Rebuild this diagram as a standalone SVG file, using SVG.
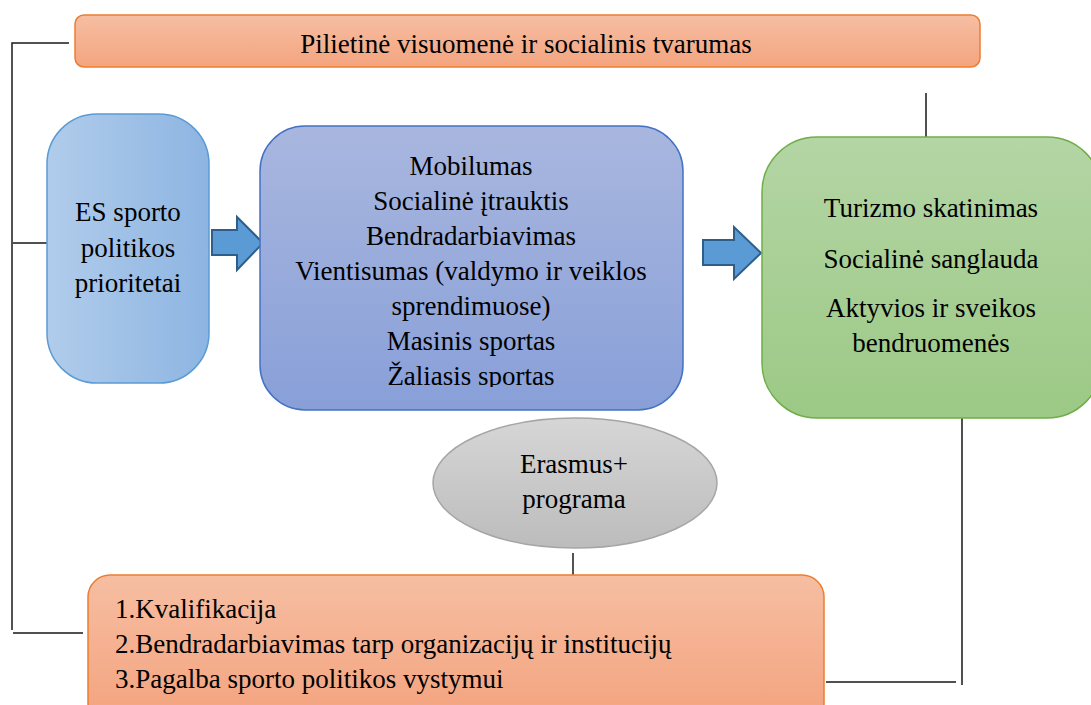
<svg xmlns="http://www.w3.org/2000/svg" width="1091" height="705" viewBox="0 0 1091 705">
  <style>
    text { font-family: 'Liberation Serif', 'DejaVu Serif', serif; font-size: 27px; fill: #000; }
    .c { text-anchor: middle; }
    .ln { stroke: #1a1a1a; stroke-width: 1.5; fill: none; }
    .ln2 { stroke: #505050; stroke-width: 2; fill: none; }
    .arrow { fill: #5b9bd5; stroke: #2e5f8a; stroke-width: 2; stroke-linejoin: miter; }
  </style>
  <defs>
    <linearGradient id="gOrange" x1="0" y1="0" x2="0" y2="1">
      <stop offset="0" stop-color="#f6bea2"/>
      <stop offset="1" stop-color="#f4a47f"/>
    </linearGradient>
    <linearGradient id="gOrangeBottom" x1="0" y1="0" x2="0" y2="1">
      <stop offset="0" stop-color="#f6bea2"/>
      <stop offset="1" stop-color="#f4a27d"/>
    </linearGradient>
    <linearGradient id="gBlueLight" x1="0" y1="0" x2="1" y2="0">
      <stop offset="0" stop-color="#b1cceb"/>
      <stop offset="1" stop-color="#8db5e2"/>
    </linearGradient>
    <linearGradient id="gBlue" x1="0" y1="0" x2="0" y2="1">
      <stop offset="0" stop-color="#a9b7df"/>
      <stop offset="1" stop-color="#889fd8"/>
    </linearGradient>
    <linearGradient id="gGreen" x1="0" y1="0" x2="0" y2="1">
      <stop offset="0" stop-color="#b4d5a5"/>
      <stop offset="1" stop-color="#9cc985"/>
    </linearGradient>
    <linearGradient id="gGray" x1="0" y1="0" x2="0" y2="1">
      <stop offset="0" stop-color="#d6d6d6"/>
      <stop offset="1" stop-color="#bcbcbc"/>
    </linearGradient>
    <clipPath id="midClip">
      <rect x="260" y="126" width="423" height="261"/>
    </clipPath>
  </defs>

  <rect width="1091" height="705" fill="#ffffff"/>

  <!-- connectors -->
  <g id="connectors">
    <polyline class="ln" points="69,43 12,43 12,630"/>
    <line class="ln2" x1="11" y1="243" x2="47" y2="243"/>
    <line class="ln2" x1="13" y1="633" x2="83" y2="633"/>
    <line class="ln2" x1="926" y1="93" x2="926" y2="137"/>
    <line class="ln2" x1="962" y1="397" x2="962" y2="685"/>
    <line class="ln2" x1="826" y1="682" x2="956" y2="682"/>
    <line class="ln" x1="573" y1="553" x2="573" y2="575"/>
  </g>

  <!-- top banner -->
  <g id="civil-society">
    <rect x="75" y="15" width="905" height="52" rx="9" fill="url(#gOrange)" stroke="#ed7d31" stroke-width="1.5"/>
    <text class="c" x="526" y="53">Pilietinė visuomenė ir socialinis tvarumas</text>
  </g>

  <!-- EU sport policy priorities -->
  <g id="priorities">
    <rect x="47" y="114" width="162" height="269" rx="50" fill="url(#gBlueLight)" stroke="#5b9bd5" stroke-width="1.5"/>
    <text class="c" x="128" y="221">ES sporto</text>
    <text class="c" x="128" y="257">politikos</text>
    <text class="c" x="128" y="292">prioritetai</text>
  </g>

  <g id="arrow-1">
    <polygon class="arrow" points="212,230 237,230 237,217 263,243 237,270 237,255 212,255"/>
  </g>

  <!-- priority areas -->
  <g id="areas">
    <rect x="260" y="126" width="423" height="284" rx="45" fill="url(#gBlue)" stroke="#4472c4" stroke-width="1.5"/>
    <g clip-path="url(#midClip)">
      <text class="c" x="471" y="175">Mobilumas</text>
      <text class="c" x="471" y="210">Socialinė įtrauktis</text>
      <text class="c" x="471" y="245">Bendradarbiavimas</text>
      <text class="c" x="471" y="280">Vientisumas (valdymo ir veiklos</text>
      <text class="c" x="471" y="315">sprendimuose)</text>
      <text class="c" x="471" y="350">Masinis sportas</text>
      <text class="c" x="471" y="385">Žaliasis sportas</text>
    </g>
  </g>

  <g id="arrow-2">
    <polygon class="arrow" points="703,240 734,240 734,227 761,253 734,279 734,265 703,265"/>
  </g>

  <!-- outcomes -->
  <g id="outcomes">
    <rect x="762" y="137" width="340" height="281" rx="55" fill="url(#gGreen)" stroke="#70ad47" stroke-width="1.5"/>
    <text class="c" x="931" y="217">Turizmo skatinimas</text>
    <text class="c" x="931" y="268">Socialinė sanglauda</text>
    <text class="c" x="931" y="317">Aktyvios ir sveikos</text>
    <text class="c" x="931" y="352">bendruomenės</text>
  </g>

  <!-- Erasmus+ -->
  <g id="erasmus">
    <ellipse cx="575" cy="483" rx="142" ry="65" fill="url(#gGray)" stroke="#a5a5a5" stroke-width="1.5"/>
    <text class="c" x="574" y="473">Erasmus+</text>
    <text class="c" x="574" y="508">programa</text>
  </g>

  <!-- programme actions -->
  <g id="actions">
    <rect x="88" y="575" width="736" height="150" rx="22" fill="url(#gOrangeBottom)" stroke="#ed7d31" stroke-width="1.5"/>
    <text x="115" y="618">1.Kvalifikacija</text>
    <text x="115" y="653">2.Bendradarbiavimas tarp organizacijų ir institucijų</text>
    <text x="115" y="688">3.Pagalba sporto politikos vystymui</text>
  </g>
</svg>
